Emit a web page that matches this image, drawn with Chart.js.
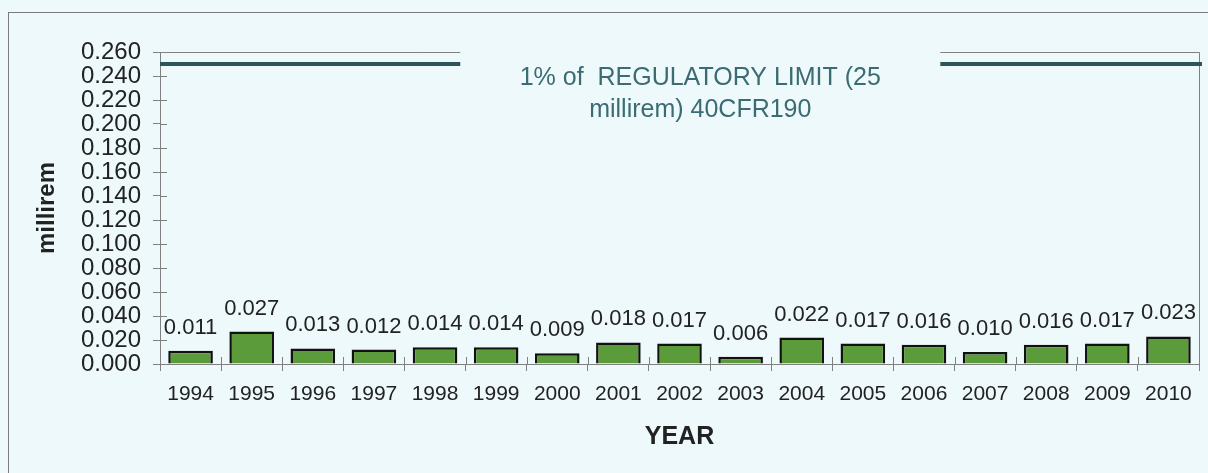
<!DOCTYPE html>
<html>
<head>
<meta charset="utf-8">
<script src="https://cdn.jsdelivr.net/npm/chart.js@4.4.1/dist/chart.umd.min.js"></script>
<style>
  html, body { margin: 0; padding: 0; background: #eef9fb; overflow: hidden; }
</style>
</head>
<body>
<canvas id="grafica" width="1208" height="473"></canvas>
<script>
// datos
const anios = ['1994','1995','1996','1997','1998','1999','2000','2001','2002','2003','2004','2005','2006','2007','2008','2009','2010'];
const dosis = [0.011, 0.027, 0.013, 0.012, 0.014, 0.014, 0.009, 0.018, 0.017, 0.006, 0.022, 0.017, 0.016, 0.010, 0.016, 0.017, 0.023];
const limite = 0.25; // 1% del limite regulatorio
const textoLimite = ['1% of  REGULATORY LIMIT (25', 'millirem) 40CFR190'];
const ejeY = { min: 0, max: 0.26, paso: 0.02 };

const fondo = '#eef9fb';
const fuente = '"Liberation Sans", Arial, sans-serif';
const gris = '#808080';

const marcoPlugin = {
  id: 'marco',
  beforeDraw(chart) {
    const c = chart.ctx;
    c.save();
    c.fillStyle = fondo;
    c.fillRect(0, 0, chart.width, chart.height);
    c.strokeStyle = '#7a7a7a';
    c.lineWidth = 1;
    c.strokeRect(8.5, 12.5, chart.width, chart.height);
    c.restore();
  },
  afterDatasetsDraw(chart) {
    const c = chart.ctx;
    const ca = chart.chartArea;
    const xs = chart.scales.x, ys = chart.scales.y;
    c.save();

    // marco superior y derecho del area
    c.strokeStyle = gris;
    c.lineWidth = 1;
    c.beginPath();
    c.moveTo(ca.left, ca.top + 0.5);
    c.lineTo(ca.right + 0.5, ca.top + 0.5);
    c.lineTo(ca.right + 0.5, ca.bottom);
    c.stroke();

    // marcas que cruzan los ejes (parte interior)
    c.beginPath();
    ys.ticks.forEach(t => {
      const py = Math.round(ys.getPixelForValue(t.value)) + 0.5;
      c.moveTo(ca.left, py);
      c.lineTo(ca.left + 7, py);
    });
    const anchoCat = xs.getPixelForValue(1) - xs.getPixelForValue(0);
    for (let i = 0; i <= anios.length; i++) {
      const px = Math.round(xs.getPixelForValue(0) - anchoCat / 2 + i * anchoCat) + 0.5;
      c.moveTo(px, ca.bottom - 7);
      c.lineTo(px, ca.bottom);
    }
    c.stroke();

    // etiquetas de valor
    c.fillStyle = '#222';
    c.font = '22px ' + fuente;
    c.textAlign = 'center';
    c.textBaseline = 'alphabetic';
    chart.getDatasetMeta(0).data.forEach((bar, i) => {
      c.fillText(dosis[i].toFixed(3), bar.x, bar.y - 17);
    });

    // linea del limite
    const yl = ys.getPixelForValue(limite);
    c.strokeStyle = '#2d5659';
    c.lineWidth = 4;
    c.beginPath();
    c.moveTo(ca.left, yl);
    c.lineTo(ca.right + 3, yl);
    c.stroke();

    // cuadro de texto
    const w = ca.right - ca.left;
    const x0 = ca.left + 0.289 * w, x1 = ca.left + 0.751 * w;
    c.fillStyle = fondo;
    c.fillRect(x0, ca.top - 4, x1 - x0, 90);
    c.fillStyle = '#3b6b73';
    c.font = '25px ' + fuente;
    c.textBaseline = 'middle';
    const xc = ca.left + 0.52 * w;
    c.fillText(textoLimite[0], xc, ca.top + 26);
    c.fillText(textoLimite[1], xc, ca.top + 58);

    c.restore();
  }
};

const ctx = document.getElementById('grafica').getContext('2d');

const data = {
  labels: anios,
  datasets: [{
    label: 'millirem',
    data: dosis,
    backgroundColor: '#5b9b3a',
    borderColor: '#111',
    borderWidth: 2.5,
    barPercentage: 0.73,
    categoryPercentage: 1.0
  }]
};

const config = {
  type: 'bar',
  data: data,
  options: {
    responsive: false,
    animation: false,
    layout: { padding: { left: 0, right: 9, top: 52, bottom: 0 } },
    plugins: { legend: { display: false }, tooltip: { enabled: false } },
    scales: {
      x: {
        grid: { offset: true, drawOnChartArea: false, tickLength: 7, color: gris },
        border: { color: gris },
        ticks: { color: '#222', font: { family: fuente, size: 21 }, padding: 11, maxRotation: 0, autoSkip: false },
        title: { display: true, text: 'YEAR', color: '#222', font: { family: fuente, size: 25, weight: 'bold' }, padding: { top: 0, bottom: 21 } },
        afterFit(scale) { scale.height = 109; }
      },
      y: {
        min: ejeY.min,
        max: ejeY.max,
        grid: { drawOnChartArea: false, tickLength: 7, color: gris },
        border: { color: gris },
        ticks: {
          stepSize: ejeY.paso,
          autoSkip: false,
          color: '#222',
          font: { family: fuente, size: 24 },
          padding: 12,
          callback: v => v.toFixed(3)
        },
        title: { display: true, text: 'millirem', color: '#222', font: { family: fuente, size: 24, weight: 'bold' }, padding: { top: 33, bottom: 0 } },
        afterFit(scale) { scale.width = 160; }
      }
    }
  },
  plugins: [marcoPlugin]
};

const myChart = new Chart(ctx, config);
</script>
</body>
</html>
